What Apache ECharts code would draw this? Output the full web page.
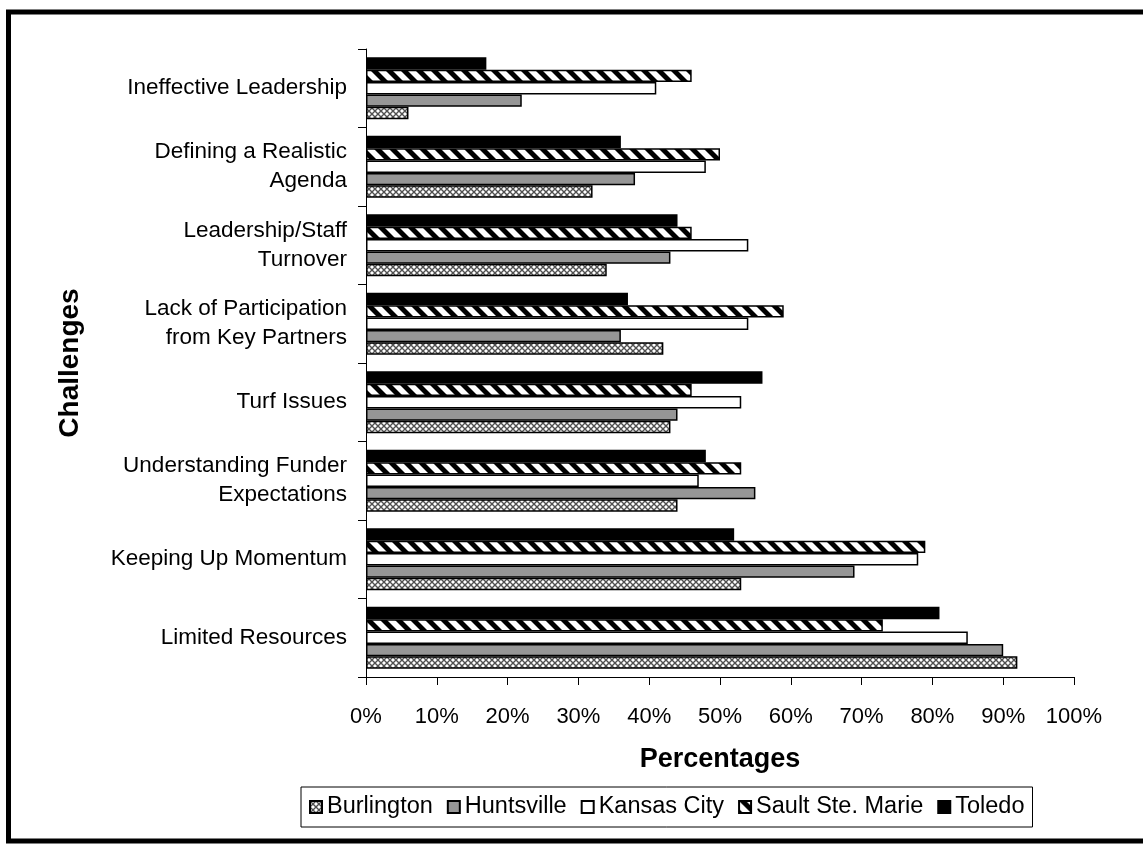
<!DOCTYPE html>
<html>
<head>
<meta charset="utf-8">
<script src="https://cdn.jsdelivr.net/npm/echarts@6/dist/echarts.min.js"></script>
<style>
html,body{margin:0;padding:0;background:#fff;}
#chart{width:1143px;height:844px;}
</style>
</head>
<body>
<div id="chart"></div>
<script>
// Categories listed bottom-to-top (category axis runs upward)
const categories = [
  'Limited Resources',
  'Keeping Up Momentum',
  'Understanding Funder\nExpectations',
  'Turf Issues',
  'Lack of Participation\nfrom Key Partners',
  'Leadership/Staff\nTurnover',
  'Defining a Realistic\nAgenda',
  'Ineffective Leadership'
];
const seriesNames = ['Burlington', 'Huntsville', 'Kansas City', 'Sault Ste. Marie', 'Toledo'];
const burlington = [92, 53, 44, 43, 42, 34, 32, 6];
const huntsville = [90, 69, 55, 44, 36, 43, 38, 22];
const kansasCity = [85, 78, 47, 53, 54, 54, 48, 41];
const saultSteMarie = [73, 79, 53, 46, 59, 46, 50, 46];
const toledo = [81, 52, 48, 56, 37, 44, 36, 17];
const xTicks = [0, 10, 20, 30, 40, 50, 60, 70, 80, 90, 100];

function crossPattern() {
  const c = document.createElement('canvas');
  c.width = 6; c.height = 6;
  const g = c.getContext('2d');
  g.fillStyle = '#ffffff'; g.fillRect(0, 0, 6, 6);
  g.strokeStyle = '#505050'; g.lineWidth = 1.4;
  g.beginPath();
  g.moveTo(-1, -1); g.lineTo(7, 7);
  g.moveTo(7, -1); g.lineTo(-1, 7);
  g.stroke();
  return c;
}
function stripePattern() {
  const s = 15, w = 7;
  const c = document.createElement('canvas');
  c.width = s; c.height = s;
  const g = c.getContext('2d');
  g.fillStyle = '#ffffff'; g.fillRect(0, 0, s, s);
  g.fillStyle = '#000000';
  for (const k of [-s, 0, s]) {
    g.beginPath();
    g.moveTo(k, 0); g.lineTo(k + w, 0); g.lineTo(k + w + s, s); g.lineTo(k + s, s);
    g.closePath(); g.fill();
  }
  return c;
}

const fills = [
  { image: crossPattern(), repeat: 'repeat' },
  '#969696',
  '#ffffff',
  { image: stripePattern(), repeat: 'repeat' },
  '#000000'
];
const dataSets = [burlington, huntsville, kansasCity, saultSteMarie, toledo];
const FONT = 'Arial, "Liberation Sans", sans-serif';

// series drawn top-to-bottom inside each band: Toledo first, Burlington last
const drawOrder = [4, 3, 2, 1, 0];

const chart = echarts.init(document.getElementById('chart'), null, { renderer: 'canvas' });
chart.setOption({
  animation: false,
  backgroundColor: '#ffffff',
  textStyle: { fontFamily: FONT, color: '#000' },
  graphic: [{
    type: 'rect',
    shape: { x: 8.5, y: 12, width: 1160, height: 829 },
    style: { fill: 'none', stroke: '#000', lineWidth: 5 },
    silent: true,
    z: 100
  }],
  grid: { left: 366, right: 69, top: 49, bottom: 167, containLabel: false },
  legend: {
    data: seriesNames,
    left: 301,
    top: 787,
    orient: 'horizontal',
    backgroundColor: '#fff',
    borderColor: '#000',
    borderWidth: 1,
    padding: [8, 8, 8, 8],
    itemGap: 14,
    itemWidth: 12,
    itemHeight: 12,
    icon: 'rect',
    textStyle: { fontFamily: FONT, fontSize: 23.5, color: '#000' }
  },
  xAxis: {
    type: 'value',
    min: 0,
    max: 100,
    interval: 10,
    name: 'Percentages',
    nameLocation: 'middle',
    nameGap: 69,
    nameTextStyle: { fontFamily: FONT, fontSize: 27, fontWeight: 'bold', color: '#000' },
    axisLine: { show: true, lineStyle: { color: '#000', width: 1 } },
    axisTick: { show: true, length: 8, lineStyle: { color: '#000' } },
    axisLabel: { fontFamily: FONT, fontSize: 22, color: '#000', margin: 29, formatter: v => xTicks.includes(v) ? v + '%' : '' },
    splitLine: { show: false }
  },
  yAxis: {
    type: 'category',
    data: categories,
    name: 'Challenges',
    nameLocation: 'middle',
    nameRotate: 90,
    nameGap: 282,
    nameTextStyle: { fontFamily: FONT, fontSize: 28, fontWeight: 'bold', color: '#000' },
    axisLine: { show: true, lineStyle: { color: '#000', width: 1 } },
    axisTick: { show: true, length: 8, lineStyle: { color: '#000' } },
    axisLabel: { fontFamily: FONT, fontSize: 22.5, color: '#000', margin: 19, lineHeight: 29, align: 'right' },
    splitLine: { show: false }
  },
  series: drawOrder.map(i => ({
    name: seriesNames[i],
    type: 'bar',
    data: dataSets[i],
    barGap: '0%',
    barCategoryGap: '21%',
    itemStyle: { color: fills[i], borderColor: '#000', borderWidth: 1.5 },
    emphasis: { disabled: true }
  }))
});
</script>
</body>
</html>
